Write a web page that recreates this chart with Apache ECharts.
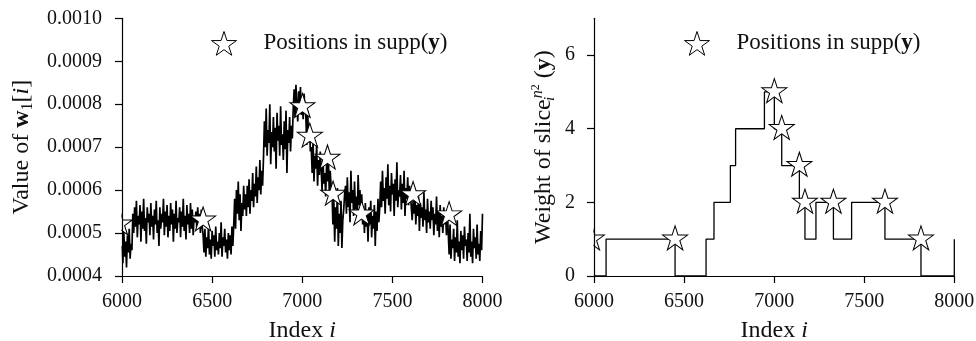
<!DOCTYPE html>
<html>
<head>
<meta charset="utf-8">
<script src="https://cdn.jsdelivr.net/npm/echarts@6/dist/echarts.min.js"></script>
<style>html,body{margin:0;padding:0;background:#fff;}#c{width:976px;height:341px;}</style>
</head>
<body>
<div id="c"></div>
<script>
// ---- Data ----
// Left panel: w1[i], sampled every 5 indices from 6000, values in units of 1e-6
const w1Start = 6000;
const w1Step = 5;
const w1Micro = [
  470,430,505,445,480,420,495,455,510,440,475,460,
  545,500,560,515,575,490,540,520,565,480,550,510,580,505,535,475,560,525,545,495,
  570,515,540,485,555,520,575,500,530,470,560,510,545,525,580,495,550,515,565,490,
  540,505,570,520,555,480,545,510,575,500,535,525,560,490,550,515,580,505,540,485,
  565,520,545,500,570,510,555,495,540,525,
  550,510,560,520,545,500,555,515,
  495,455,510,445,490,465,520,450,485,440,505,470,495,445,515,460,480,450,500,465,
  525,445,490,470,510,455,485,440,500,460,495,450,515,470,
  520,580,510,600,545,620,530,590,505,570,540,610,555,
  590,540,610,560,625,545,600,575,640,560,615,585,655,570,630,600,670,590,645,610,675,
  760,700,790,680,740,710,800,660,735,700,770,690,745,650,780,715,750,680,795,705,
  730,670,760,695,785,640,740,710,770,690,750,720,
  790,835,770,845,800,760,830,785,840,775,815,765,825,790,
  770,705,785,720,750,690,
  700,640,715,620,680,650,705,610,670,635,690,
  650,600,670,615,640,585,660,620,675,595,645,610,
  600,520,580,480,560,510,605,470,545,500,575,465,530,555,590,
  610,545,630,560,595,525,645,570,600,540,620,555,585,530,635,565,600,545,590,520,
  555,500,570,515,545,480,560,520,575,490,540,510,565,470,550,505,580,525,560,
  620,560,645,575,605,545,630,580,660,565,610,550,640,590,615,540,625,575,665,560,
  600,585,635,555,615,570,645,540,605,580,630,565,610,590,
  590,530,575,545,600,520,565,540,585,505,570,535,560,515,595,530,555,500,580,525,
  550,510,575,530,560,495,545,520,585,505,550,490,565,515,540,500,560,520,545,495,555,
  500,450,520,440,485,465,510,435,490,455,530,445,480,430,505,460,495,440,515,470,
  485,435,500,455,545,445,480,430,510,465,490,440,520,450,475,435,505,460,545
];
// Positions in supp(y)
const starIndex = [5988, 6450, 7001, 7042, 7140, 7171, 7329, 7615, 7815];
const starW1Micro = [521, 530, 794, 725, 674, 590, 544, 589, 542];
const starWeight = [1, 1, 5, 4, 3, 2, 2, 2, 1];
// Right panel: step function breakpoints (value holds until next breakpoint)
const stepIndex = [6000, 6067, 6450, 6622, 6666, 6757, 6786, 6946, 7001, 7042, 7140, 7171, 7232, 7329, 7430, 7615, 7815, 8000];
const stepWeight = [0, 1, 0, 1, 2, 3, 4, 5, 4, 3, 2, 1, 2, 1, 2, 1, 0, 1];
const xTicks = [6000, 6500, 7000, 7500, 8000];
const leftYTicks = [0.0004, 0.0005, 0.0006, 0.0007, 0.0008, 0.0009, 0.0010];
const rightYTicks = [0, 2, 4, 6];

// ---- Chart ----
const FONT = 'Liberation Serif';
const STAR = 'path://M50 0 L61.23 34.55 L97.55 34.55 L68.17 55.9 L79.39 90.45 L50 69.1 L20.61 90.45 L31.83 55.9 L2.45 34.55 L38.77 34.55 Z';
const w1Data = w1Micro.map((v, k) => [w1Start + k * w1Step, v / 1e6]);
const starLeft = starIndex.map((x, k) => [x, starW1Micro[k] / 1e6]);
const starRight = starIndex.map((x, k) => [x, starWeight[k]]);
const stepData = stepIndex.map((x, k) => [x, stepWeight[k]]);

const axisLineStyle = { color: '#000', width: 1.2 };
const tickLabel = { color: '#111', fontFamily: FONT, fontSize: 20 };
const nameStyle = {
  color: '#111', fontFamily: FONT, fontSize: 24, lineHeight: 28,
  rich: {
    b: { fontFamily: FONT, fontSize: 24, fontWeight: 'bold', color: '#111', lineHeight: 28 },
    it: { fontFamily: FONT, fontSize: 24, fontStyle: 'italic', color: '#111', lineHeight: 28 },
    sub: { fontFamily: FONT, fontSize: 16, color: '#111', verticalAlign: 'bottom', lineHeight: 16 },
    subo: { fontFamily: FONT, fontSize: 15, fontStyle: 'italic', color: '#111', verticalAlign: 'bottom', lineHeight: 15, width: 1 },
    sup: { fontFamily: FONT, fontSize: 16, fontStyle: 'italic', color: '#111', verticalAlign: 'top', lineHeight: 16 },
    supsub: { fontFamily: FONT, fontSize: 12, color: '#111', verticalAlign: 'top', lineHeight: 22 }
  }
};

function xAxis(gi) {
  return {
    gridIndex: gi, type: 'value', min: 6000, max: 8000, interval: 500, z: 20,
    axisLine: { show: true, lineStyle: axisLineStyle },
    axisTick: { show: true, length: 7, inside: false, lineStyle: axisLineStyle, customValues: xTicks },
    axisLabel: Object.assign({ margin: 16, formatter: v => String(v), customValues: xTicks }, tickLabel),
    splitLine: { show: false },
    name: 'Index {it|i}', nameLocation: 'middle', nameGap: 41, nameTextStyle: nameStyle
  };
}

const option = {
  animation: false,
  backgroundColor: '#fff',
  grid: [
    { left: 122, right: 493.5, top: 18.3, bottom: 65, outerBoundsMode: 'none', containLabel: false },
    { left: 594, right: 21.7, top: 18.3, bottom: 65, outerBoundsMode: 'none', containLabel: false }
  ],
  xAxis: [xAxis(0), xAxis(1)],
  yAxis: [
    {
      gridIndex: 0, type: 'value', min: 0.0004, max: 0.0010, interval: 0.0001, z: 20,
      axisLine: { show: true, lineStyle: axisLineStyle },
      axisTick: { show: true, length: 7, lineStyle: axisLineStyle, customValues: leftYTicks },
      axisLabel: Object.assign({ margin: 20, formatter: v => Number(v).toFixed(4), customValues: leftYTicks }, tickLabel),
      splitLine: { show: false },
      name: 'Value of {b|w}{sub|1}[{it|i}]', nameLocation: 'middle', nameGap: 86, nameRotate: 90,
      nameTextStyle: nameStyle
    },
    {
      gridIndex: 1, type: 'value', min: 0, max: 7, z: 20,
      axisLine: { show: true, lineStyle: axisLineStyle },
      axisTick: { show: true, length: 7, lineStyle: axisLineStyle, customValues: rightYTicks },
      axisLabel: Object.assign({ margin: 19, customValues: rightYTicks }, tickLabel),
      splitLine: { show: false },
      name: 'Weight of slice{subo|i}{sup|n}{supsub|2} ({b|y})', nameLocation: 'middle', nameGap: 36, nameRotate: 90,
      nameTextStyle: nameStyle
    }
  ],
  legend: [0, 1].map(i => ({
    left: i === 0 ? 211 : 684, top: 31, padding: 0, orient: 'horizontal',
    data: [{ name: 'stars', icon: STAR }],
    itemWidth: 25, itemHeight: 24,
    selectedMode: false,
    formatter: () => 'Positions in supp({b|y})',
    textStyle: {
      color: '#111', fontFamily: FONT, fontSize: 23, padding: [0, 0, 0, 22],
      rich: { b: { fontFamily: FONT, fontSize: 23, fontWeight: 'bold', color: '#111' } }
    },
    itemStyle: { color: '#fff', borderColor: '#000', borderWidth: 1 }
  })),
  graphic: [
    { type: 'rect', shape: { x: 100, y: 195, width: 21.4, height: 72 }, style: { fill: '#fff' }, z: 10, silent: true },
    { type: 'rect', shape: { x: 576, y: 205, width: 17.4, height: 63 }, style: { fill: '#fff' }, z: 10, silent: true }
  ],
  series: [
    {
      type: 'line', xAxisIndex: 0, yAxisIndex: 0, data: w1Data, showSymbol: false, symbol: 'none',
      lineStyle: { color: '#000', width: 1.7 }, z: 2, silent: true
    },
    {
      name: 'stars', type: 'scatter', xAxisIndex: 0, yAxisIndex: 0, data: starLeft, clip: false,
      symbol: STAR, symbolSize: [25, 24], symbolOffset: [0, -1.3],
      itemStyle: { color: '#fff', borderColor: '#000', borderWidth: 1, opacity: 1 }, z: 5, silent: true
    },
    {
      type: 'line', xAxisIndex: 1, yAxisIndex: 1, data: stepData, step: 'end', showSymbol: false, symbol: 'none',
      lineStyle: { color: '#000', width: 1.3 }, z: 2, silent: true
    },
    {
      name: 'stars', type: 'scatter', xAxisIndex: 1, yAxisIndex: 1, data: starRight, clip: false,
      symbol: STAR, symbolSize: [25, 24], symbolOffset: [0, -1.3],
      itemStyle: { color: '#fff', borderColor: '#000', borderWidth: 1, opacity: 1 }, z: 5, silent: true
    }
  ]
};
const chart = echarts.init(document.getElementById('c'), null, { renderer: 'canvas' });
chart.setOption(option);
</script>
</body>
</html>
